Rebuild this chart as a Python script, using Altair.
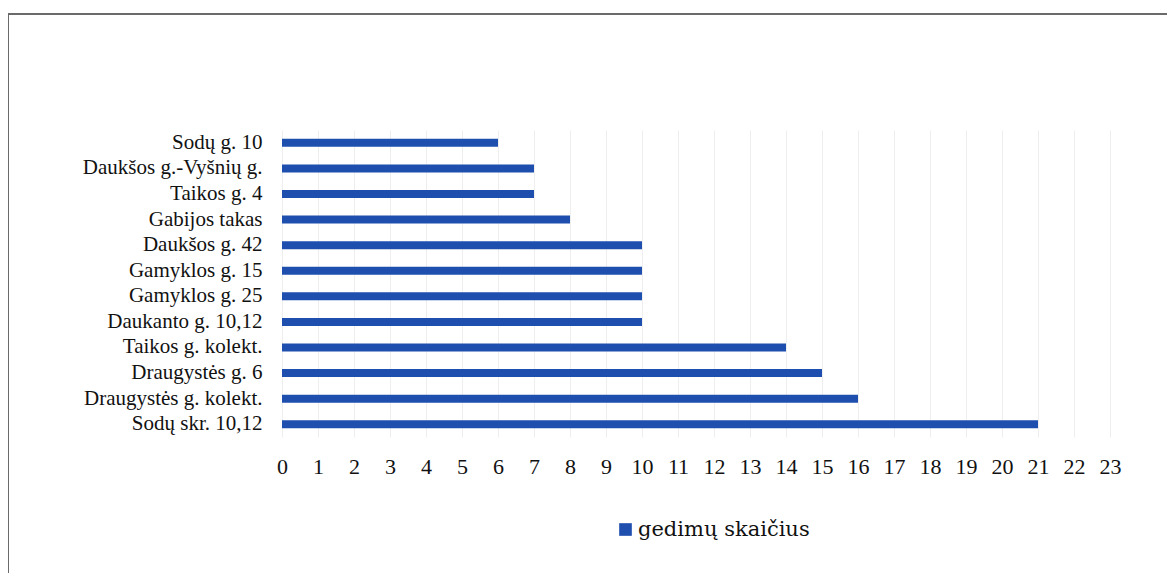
import altair as alt
import pandas as pd

categories = [
    "Sodų g. 10",
    "Daukšos g.-Vyšnių g. ",
    "Taikos g. 4",
    "Gabijos takas",
    "Daukšos g. 42",
    "Gamyklos g. 15",
    "Gamyklos g. 25",
    "Daukanto g. 10,12",
    "Taikos g. kolekt.",
    "Draugystės g. 6",
    "Draugystės g. kolekt.",
    "Sodų skr. 10,12",
]
values = [6, 7, 7, 8, 10, 10, 10, 10, 14, 15, 16, 21]
series_name = "gedimų skaičius"
x_ticks = list(range(0, 24))

df = pd.DataFrame({
    "vieta": categories,
    "gedimai": values,
    "serija": [series_name] * len(categories),
})

FONT = "'Times New Roman', 'Liberation Serif', serif"
LEGEND_FONT = "'DejaVu Serif', serif"

bars = alt.Chart(df).mark_bar(size=8).encode(
    x=alt.X(
        "gedimai:Q",
        scale=alt.Scale(domain=[0, 23], nice=False, zero=True),
        axis=alt.Axis(
            values=x_ticks, title=None, grid=True, gridColor="#eeeeee",
            gridWidth=1, ticks=False, domain=False, labelFont=FONT,
            labelFontSize=22, labelColor="#111111", labelPadding=19,
            labelFlush=False,
        ),
    ),
    y=alt.Y(
        "vieta:N", sort=categories,
        scale=alt.Scale(paddingInner=0, paddingOuter=0),
        axis=alt.Axis(
            title=None, ticks=False, domain=False, labelFont=FONT,
            labelFontSize=21, labelPadding=20, labelColor="#111111",
            labelLimit=400,
        ),
    ),
    color=alt.Color(
        "serija:N",
        scale=alt.Scale(domain=[series_name], range=["#1f4fae"]),
        legend=alt.Legend(
            title=None, orient="none", legendX=333, legendY=389,
            symbolType="square", symbolSize=160, symbolStrokeWidth=0,
            labelFont=LEGEND_FONT, labelFontSize=21, labelColor="#111111",
            labelOffset=2, labelLimit=400,
        ),
    ),
)

frame = pd.DataFrame({"k": [0]})
top_line = alt.Chart(frame).mark_rule(color="#6a6a6a", strokeWidth=2).encode(
    x=alt.value(-275), x2=alt.value(892), y=alt.value(-116)
)
left_line = alt.Chart(frame).mark_rule(color="#6a6a6a", strokeWidth=2).encode(
    x=alt.value(-274), y=alt.value(-117), y2=alt.value(448)
)
right_line = alt.Chart(frame).mark_rule(color="#e6e6e6", strokeWidth=1).encode(
    x=alt.value(890), y=alt.value(-116), y2=alt.value(446)
)
bottom_line = alt.Chart(frame).mark_rule(color="#e6e6e6", strokeWidth=1).encode(
    x=alt.value(-274), x2=alt.value(890), y=alt.value(446)
)

chart = alt.layer(bars, top_line, left_line, right_line, bottom_line).properties(
    width=828,
    height=307,
    autosize=alt.AutoSizeParams(type="none"),
    padding={"left": 274, "top": 122, "right": 57, "bottom": 136},
    background="white",
).configure_view(stroke=None)

chart.save("out.html", embed_options={"renderer": "svg", "actions": False})
